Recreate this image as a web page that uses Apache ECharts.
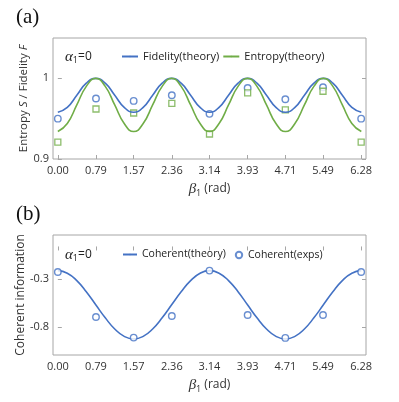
<!DOCTYPE html>
<html><head><meta charset="utf-8">
<script src="https://cdn.jsdelivr.net/npm/echarts@6/dist/echarts.min.js"></script>
<style>html,body{margin:0;padding:0;background:#fff}#c{width:399px;height:402px}</style>
</head><body><div id="c"></div>
<script>
// ---- data ----
const tickValues = [0, 0.79, 1.57, 2.36, 3.14, 3.93, 4.71, 5.49, 6.28];
const betaTheory = [0, 0.196, 0.393, 0.589, 0.785, 0.982, 1.178, 1.374, 1.571, 1.767, 1.963, 2.160, 2.356, 2.553, 2.749, 2.945, 3.142, 3.338, 3.534, 3.731, 3.927, 4.123, 4.320, 4.516, 4.712, 4.909, 5.105, 5.301, 5.498, 5.694, 5.890, 6.087, 6.283];
const fidelityTheory = [0.958,0.964,0.979,0.994,1.000,0.994,0.979,0.964, 0.958,0.964,0.979,0.994,1.000,0.994,0.979,0.964, 0.958,0.964,0.979,0.994,1.000,0.994,0.979,0.964, 0.958,0.964,0.979,0.994,1.000,0.994,0.979,0.964, 0.958];
const entropyTheory = [0.934,0.944,0.967,0.990,1.000,0.990,0.967,0.944, 0.934,0.944,0.967,0.990,1.000,0.990,0.967,0.944, 0.934,0.944,0.967,0.990,1.000,0.990,0.967,0.944, 0.934,0.944,0.967,0.990,1.000,0.990,0.967,0.944, 0.934];
const coherentTheory = [-0.210,-0.237,-0.314,-0.430,-0.566,-0.702,-0.818,-0.895,-0.922,-0.895,-0.818,-0.702,-0.566,-0.430,-0.314,-0.237, -0.210,-0.237,-0.314,-0.430,-0.566,-0.702,-0.818,-0.895,-0.922,-0.895,-0.818,-0.702,-0.566,-0.430,-0.314,-0.237, -0.210];
const betaExp = [0, 0.79, 1.57, 2.36, 3.14, 3.93, 4.71, 5.49, 6.28];
const fidelityExp = [0.950, 0.975, 0.972, 0.979, 0.956, 0.988, 0.974, 0.989, 0.950];
const entropyExp = [0.921, 0.962, 0.957, 0.969, 0.931, 0.982, 0.961, 0.984, 0.921];
const coherentExp = [-0.224, -0.693, -0.908, -0.682, -0.210, -0.672, -0.911, -0.672, -0.224];
const yTicksA = [0.9, 1];
const yTicksB = [-0.8, -0.3];

const BLUE = '#4472C4', GREEN = '#70AD47';
const FONT = 'Open Sans';
const TXT = '#333';
const pair = (xs, ys) => xs.map((x, i) => [x, ys[i]]);

const chart = echarts.init(document.getElementById('c'), null, {renderer: 'canvas'});
const gridA = {left: 53, right: 33, top: 38, height: 121, show: true, borderColor: '#a6a6a6', borderWidth: 1};
const gridB = {left: 53, right: 33, top: 235, height: 120, show: true, borderColor: '#a6a6a6', borderWidth: 1};

function xAxis(gi) {
  return {
    type: 'value', gridIndex: gi, min: -0.1, max: 6.38,
    axisLine: {show: false},
    splitLine: {show: false},
    axisTick: {show: true, inside: true, length: 4, lineStyle: {color: '#a6a6a6'}, customValues: tickValues},
    axisLabel: {customValues: tickValues, formatter: v => v.toFixed(2), fontFamily: FONT, fontSize: 11, color: TXT, margin: 6},
    name: '{b|β}{s|1}{n| (rad)}', nameLocation: 'middle', nameGap: 21, nameMoveOverlap: false,
    nameTextStyle: {rich: {
      b: {fontFamily: 'Liberation Serif', fontStyle: 'italic', fontSize: 15, color: TXT, lineHeight: 18},
      s: {fontFamily: FONT, fontSize: 9, color: TXT, verticalAlign: 'bottom', lineHeight: 18, padding: [8, 0, 0, 0]},
      n: {fontFamily: FONT, fontSize: 12, color: TXT, lineHeight: 18}
    }}
  };
}
function yAxis(gi, min, max, ticks, name, rich, gap, fs) {
  return {
    type: 'value', gridIndex: gi, min, max,
    axisLine: {show: false}, splitLine: {show: false},
    axisTick: {show: true, inside: true, length: 4, lineStyle: {color: '#a6a6a6'}, customValues: ticks},
    axisLabel: {customValues: ticks, fontFamily: FONT, fontSize: 11, color: TXT, margin: 4},
    name, nameLocation: 'middle', nameGap: gap, nameRotate: 90, nameMoveOverlap: false,
    nameTextStyle: {fontFamily: FONT, fontSize: fs, color: TXT, rich}
  };
}
function yAxisRight(gi, min, max, ticks) {
  return {
    type: 'value', gridIndex: gi, min, max, position: 'right',
    axisLine: {show: false}, splitLine: {show: false},
    axisTick: {show: true, inside: true, length: 4, lineStyle: {color: '#a6a6a6'}, customValues: ticks},
    axisLabel: {show: false}
  };
}
const richA = {
  n: {fontFamily: FONT, fontSize: 11.5, color: TXT},
  i: {fontFamily: FONT, fontSize: 11.5, color: TXT, fontStyle: 'italic'}
};
const alphaRich = {
  a: {fontFamily: 'Liberation Serif', fontStyle: 'italic', fontWeight: 'normal', fontSize: 15, color: '#222', lineHeight: 16},
  s: {fontFamily: FONT, fontWeight: 'normal', fontSize: 9, color: '#222', verticalAlign: 'bottom', padding: [7, 0, 0, 0], lineHeight: 16},
  n: {fontFamily: FONT, fontWeight: 'normal', fontSize: 12, color: '#222', lineHeight: 16}
};
const smallCircle = 'path://M0,0 M8,10 M0.8,5 A3.2,3.2 0 1 1 7.2,5 A3.2,3.2 0 1 1 0.8,5 Z';

chart.setOption({
  animation: false,
  backgroundColor: '#fff',
  title: [
    {text: '(a)', left: 11, top: 2, textStyle: {fontFamily: 'Liberation Serif', fontSize: 21, fontWeight: 'normal', color: '#111'}},
    {text: '(b)', left: 11, top: 199, textStyle: {fontFamily: 'Liberation Serif', fontSize: 21, fontWeight: 'normal', color: '#111'}},
    {text: '{a|α}{s|1}{n|=0}', left: 60, top: 44, textStyle: {fontWeight: 'normal', rich: alphaRich}},
    {text: '{a|α}{s|1}{n|=0}', left: 60, top: 242, textStyle: {fontWeight: 'normal', rich: alphaRich}}
  ],
  legend: [
    {data: ['Fidelity(theory)', 'Entropy(theory)'],
     left: 116, top: 46, itemWidth: 16, itemHeight: 2, itemGap: 3,
     textStyle: {fontFamily: FONT, fontSize: 11, color: '#222'}},
    {data: ['Coherent(theory)'],
     left: 117, top: 244, itemWidth: 14, itemHeight: 2,
     textStyle: {fontFamily: FONT, fontSize: 10.5, color: '#222'}},
    {data: [{name: 'Coherent(exps)', icon: smallCircle}],
     left: 229, top: 244, itemWidth: 8, itemHeight: 10,
     textStyle: {fontFamily: FONT, fontSize: 10.5, color: '#222'}}
  ],
  grid: [gridA, gridB],
  xAxis: [xAxis(0), xAxis(1)],
  yAxis: [
    yAxis(0, 0.9, 1.05, yTicksA, '{n|Entropy }{i|S}{n| / Fidelity }{i|F}', richA, 23, 11.5),
    yAxis(1, -1.089, 0.161, yTicksB, 'Coherent information', undefined, 26, 12),
    yAxisRight(0, 0.9, 1.05, yTicksA),
    yAxisRight(1, -1.089, 0.161, yTicksB)
  ],
  series: [
    {name: 'Fidelity(theory)', type: 'line', xAxisIndex: 0, yAxisIndex: 0, data: pair(betaTheory, fidelityTheory), smooth: 0.5, symbol: 'none', lineStyle: {color: BLUE, width: 1.6}, itemStyle: {color: BLUE}},
    {name: 'Entropy(theory)', type: 'line', xAxisIndex: 0, yAxisIndex: 0, data: pair(betaTheory, entropyTheory), smooth: 0.5, symbol: 'none', lineStyle: {color: GREEN, width: 1.6}, itemStyle: {color: GREEN}},
    {name: 'Fidelity(exps)', type: 'scatter', xAxisIndex: 0, yAxisIndex: 0, data: pair(betaExp, fidelityExp), symbol: 'circle', symbolSize: 6.5, itemStyle: {color: '#fff', borderColor: BLUE, borderWidth: 1.4}},
    {name: 'Entropy(exps)', type: 'scatter', xAxisIndex: 0, yAxisIndex: 0, data: pair(betaExp, entropyExp), symbol: 'rect', symbolSize: 6, itemStyle: {color: '#fff', borderColor: GREEN, borderWidth: 1.3}},
    {name: 'Coherent(theory)', type: 'line', xAxisIndex: 1, yAxisIndex: 1, data: pair(betaTheory, coherentTheory), smooth: 0.5, symbol: 'none', lineStyle: {color: BLUE, width: 1.6}, itemStyle: {color: BLUE}},
    {name: 'Coherent(exps)', type: 'scatter', xAxisIndex: 1, yAxisIndex: 1, data: pair(betaExp, coherentExp), symbol: 'circle', symbolSize: 6.5, itemStyle: {color: '#fff', borderColor: BLUE, borderWidth: 1.4}, z: 3}
  ]
});
</script></body></html>
